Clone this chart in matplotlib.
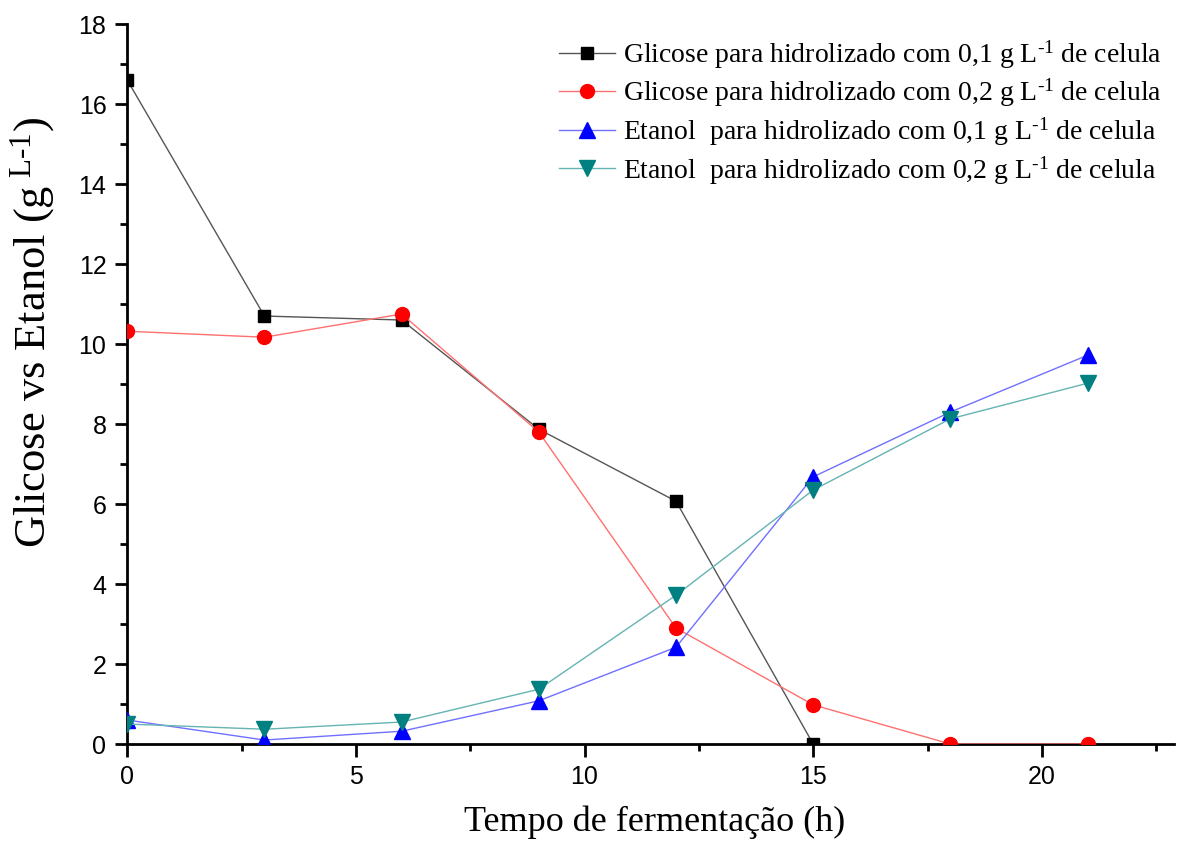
import matplotlib
matplotlib.use("Agg")
import matplotlib.pyplot as plt
from matplotlib.ticker import MultipleLocator

# === DATA ===
tempo = [0, 3, 6, 9, 12, 15, 18, 21]
tempo_g1 = [0, 3, 6, 9, 12, 15]
glicose_01 = [16.6, 10.7, 10.6, 7.87, 6.07, 0.0]
glicose_02 = [10.32, 10.17, 10.75, 7.8, 2.9, 0.98, 0.0, 0.0]
etanol_01 = [0.6, 0.1, 0.32, 1.08, 2.42, 6.68, 8.3, 9.72]
etanol_02 = [0.5, 0.37, 0.55, 1.37, 3.72, 6.35, 8.13, 9.02]

labels = [
    r"Glicose para hidrolizado com 0,1 g L$^{\text{-1}}$ de celula",
    r"Glicose para hidrolizado com 0,2 g L$^{\text{-1}}$ de celula",
    r"Etanol  para hidrolizado com 0,1 g L$^{\text{-1}}$ de celula",
    r"Etanol  para hidrolizado com 0,2 g L$^{\text{-1}}$ de celula",
]

plt.rcParams['mathtext.fontset'] = 'custom'
plt.rcParams['mathtext.rm'] = 'Liberation Serif'
plt.rcParams['mathtext.it'] = 'Liberation Serif'

serif = 'Liberation Serif'
sans = 'Liberation Sans'

fig = plt.figure(figsize=(11.78, 8.43), dpi=100)
ax = fig.add_axes([0.108, 0.1174, 0.889, 0.8541])

ms = 10
ax.plot(tempo_g1, glicose_01, color='#555555', lw=1, marker='s', ms=ms - 1,
        mfc='black', mec='black', label=labels[0], zorder=3)
ax.plot(tempo, glicose_02, color='#ff7070', lw=1, marker='o', ms=ms,
        mfc='red', mec='red', label=labels[1], zorder=3)
ax.plot(tempo, etanol_01, color='#7070ff', lw=1, marker='^', ms=ms + 1,
        mfc='blue', mec='blue', label=labels[2], zorder=3)
ax.plot(tempo, etanol_02, color='#66b3b3', lw=1, marker='v', ms=ms + 1,
        mfc='#008080', mec='#008080', label=labels[3], zorder=3)

ax.set_xlim(0, 22.9)
ax.set_ylim(0, 18)
ax.xaxis.set_major_locator(MultipleLocator(5))
ax.xaxis.set_minor_locator(MultipleLocator(2.5))
ax.yaxis.set_major_locator(MultipleLocator(2))
ax.yaxis.set_minor_locator(MultipleLocator(1))

for s in ['top', 'right']:
    ax.spines[s].set_visible(False)
for s in ['left', 'bottom']:
    ax.spines[s].set_linewidth(2)

ax.tick_params(which='major', direction='out', length=9, width=2, labelsize=18, pad=6)
ax.tick_params(which='minor', direction='out', length=5, width=2)
for lab in ax.get_xticklabels() + ax.get_yticklabels():
    lab.set_fontfamily(sans)

ax.set_xlabel("Tempo de fermentação (h)", fontsize=26, family=serif)
ax.xaxis.set_label_coords(0.504, -0.085)
ax.set_ylabel(r"Glicose vs Etanol (g$^{\text{ L-1}}$)", fontsize=32, family=serif)
ax.yaxis.set_label_coords(-0.067, 0.572)

leg = ax.legend(loc='upper right', bbox_to_anchor=(1.012, 1.015), frameon=False,
                prop={'family': serif, 'size': 20}, handlelength=2.0,
                handletextpad=0.3, labelspacing=0.22)

fig.savefig("out.png", dpi=100)
